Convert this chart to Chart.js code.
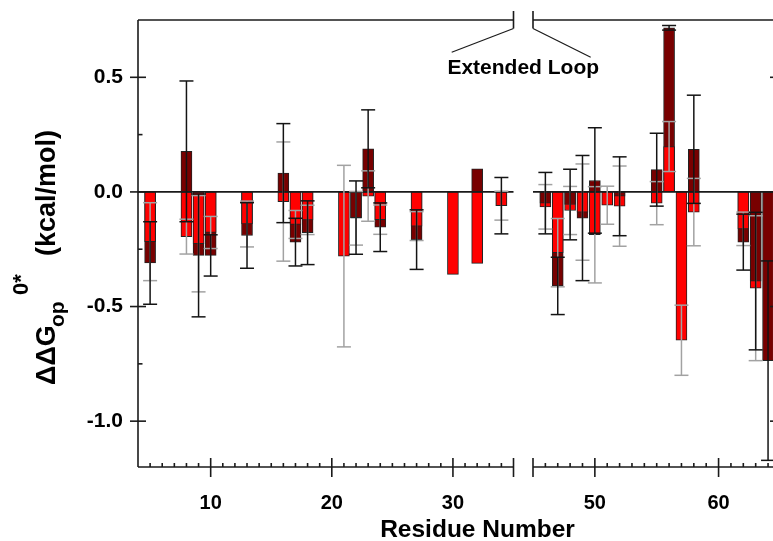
<!DOCTYPE html>
<html>
<head>
<meta charset="utf-8">
<script src="https://cdn.jsdelivr.net/npm/chart.js@4.4.1/dist/chart.umd.min.js"></script>
<style>
html,body{margin:0;padding:0;background:#fff;overflow:hidden}
#wrap{width:773px;height:541px;position:relative}
</style>
</head>
<body>
<div id="wrap"><canvas id="c" width="773" height="541"></canvas></div>
<script>
// ---------------- data ----------------
const residues   = [5, 8, 9, 10, 13, 16, 17, 18, 21, 22, 23, 24, 27, 30, 32, 34,
                    46, 47, 48, 49, 50, 51, 52, 55, 56, 57, 58, 62, 63, 64];
const redValues  = [-0.217, -0.195, -0.226, -0.177, -0.140, -0.042, -0.142, -0.122, -0.280, -0.115, -0.018, -0.121, -0.149, -0.360, -0.312, -0.060,
                    -0.065, -0.265, -0.081, -0.088, -0.187, -0.058, -0.062, -0.049, 0.198, -0.647, -0.088, -0.161, -0.420, null];
const redErrors  = [0.170, 0.076, 0.210, 0.070, 0.100, 0.260, 0.061, 0.064, 0.396, 0.117, 0.110, 0.064, 0.063, null, null, 0.063,
                    0.097, 0.149, 0.105, 0.210, 0.210, 0.083, 0.175, 0.094, 0.109, 0.153, 0.147, 0.073, 0.316, null];
const darkValues = [-0.310, 0.177, -0.277, -0.277, -0.190, 0.082, -0.219, -0.178, null, -0.112, 0.188, -0.154, -0.208, null, 0.101, -0.060,
                    -0.049, -0.410, -0.055, -0.114, 0.050, null, -0.019, 0.097, 0.716, null, 0.186, -0.219, -0.389, -0.736];
const darkErrors = [0.180, 0.307, 0.268, 0.090, 0.143, 0.216, 0.104, 0.139, null, 0.160, 0.170, 0.106, 0.130, null, null, 0.123,
                    0.134, 0.125, 0.154, 0.273, 0.230, null, 0.172, 0.159, 0.010, null, 0.236, 0.122, 0.300, 0.435];
const leftRange   = [4, 35];
const rightRange  = [45, 64.4];
const xTickLabels = [10, 20, 30, 50, 60];
const yTickValues = [0.5, 0.0, -0.5, -1.0];
const yMinorTicks = [0.25, -0.25, -0.75];
const yRange      = [-1.2, 0.75];
const xTitle = 'Residue Number';
const loopLabel = 'Extended Loop';

// ---------------- styling ----------------
const FONT = "'Liberation Sans', Arial, Helvetica, sans-serif";
const RED = '#ff0000', DARK = '#780000', AXIS = '#1a1a1a';
const GRAY_ERR = '#a2a2a2', BLACK_ERR = '#141414';

function panelOf(r) { return r <= leftRange[1] ? 'xL' : 'xR'; }
// the shorter of the two bars at a residue is drawn in front
function barData(panel, values, others, front, tieFront) {
  const out = [];
  residues.forEach((r, i) => {
    const v = values[i], o = others[i];
    if (v === null || panelOf(r) !== panel) return;
    const isFront = o === null || (tieFront ? Math.abs(v) <= Math.abs(o) : Math.abs(v) < Math.abs(o));
    if (isFront === front) out.push({x: r, y: v});
  });
  return out;
}

const common = {grouped: false, barThickness: 11, borderWidth: 1, borderColor: '#222',
                borderSkipped: false, yAxisID: 'y'};
const datasets = [];
for (const panel of ['xL', 'xR']) {
  for (const front of [true, false]) {
    datasets.push(Object.assign({label: 'red', xAxisID: panel, order: front ? 1 : 2,
      backgroundColor: RED, data: barData(panel, redValues, darkValues, front, true)}, common));
    datasets.push(Object.assign({label: 'dark', xAxisID: panel, order: front ? 1 : 2,
      backgroundColor: DARK, data: barData(panel, darkValues, redValues, front, false)}, common));
  }
}

const zeroPad = s => { s.paddingTop = 0; s.paddingBottom = 0; s.paddingLeft = 0; s.paddingRight = 0; };
const tickFont = {family: FONT, size: 20, weight: 'bold'};
function xAxis(range, weight, showTicks) {
  return {
    type: 'linear', position: 'bottom', stack: 'x', stackWeight: weight,
    min: range[0], max: range[1], offset: false,
    grid: {display: false, drawTicks: false}, border: {display: false},
    ticks: {display: showTicks, font: tickFont, color: '#000', padding: 24, maxRotation: 0, autoSkip: false},
    afterBuildTicks: s => { if (showTicks) s.ticks = xTickLabels.filter(v => v >= range[0] && v <= range[1]).map(v => ({value: v})); },
    afterFit: s => { s.height = 74; zeroPad(s); }
  };
}

const decor = {
  id: 'decor',
  afterDatasetsDraw(chart) {
    const {ctx, scales} = chart;
    const y = scales.y;
    const seg = (x1, y1, x2, y2) => { ctx.beginPath(); ctx.moveTo(x1, y1); ctx.lineTo(x2, y2); ctx.stroke(); };
    ctx.save();
    // zero line per panel
    ctx.strokeStyle = AXIS; ctx.lineWidth = 1.6;
    const y0 = y.getPixelForValue(0);
    for (const s of [scales.xL, scales.xR]) seg(s.left, y0, s.right, y0);
    // error bars
    const drawErr = (vals, errs, color) => {
      ctx.strokeStyle = color; ctx.lineWidth = 1.5;
      residues.forEach((r, i) => {
        if (vals[i] === null || errs[i] === null) return;
        const px = scales[panelOf(r)].getPixelForValue(r);
        const top = y.getPixelForValue(vals[i] + errs[i]);
        const bot = y.getPixelForValue(vals[i] - errs[i]);
        seg(px, top, px, bot);
        seg(px - 7, top, px + 7, top);
        seg(px - 7, bot, px + 7, bot);
      });
    };
    drawErr(redValues, redErrors, GRAY_ERR);
    drawErr(darkValues, darkErrors, BLACK_ERR);
    ctx.restore();
  },
  afterDraw(chart) {
    const {ctx, chartArea: a, scales} = chart;
    const {y, xL, xR} = scales;
    const seg = (x1, y1, x2, y2) => { ctx.beginPath(); ctx.moveTo(x1, y1); ctx.lineTo(x2, y2); ctx.stroke(); };
    ctx.save();
    ctx.strokeStyle = AXIS; ctx.lineWidth = 1.6;
    // frame
    seg(a.left, a.top, a.left, a.bottom);
    for (const s of [xL, xR]) { seg(s.left, a.top, s.right, a.top); seg(s.left, a.bottom, s.right, a.bottom); }
    // break marks
    for (const bx of [xL.right, xR.left]) { seg(bx, a.top - 9, bx, a.top + 8.5); seg(bx, a.bottom - 9, bx, a.bottom + 10); }
    // y ticks
    yTickValues.forEach(v => { const py = y.getPixelForValue(v); seg(a.left - 8, py, a.left + 8, py); seg(a.right - 3, py, a.right, py); });
    yMinorTicks.forEach(v => { const py = y.getPixelForValue(v); seg(a.left, py, a.left + 4.5, py); });
    // x ticks
    for (const s of [xL, xR]) {
      for (let r = Math.ceil(s.min); r <= Math.floor(s.max); r++) {
        const px = s.getPixelForValue(r);
        if (xTickLabels.includes(r)) seg(px, a.bottom - 9, px, a.bottom + 10);
        else if (r > s.min && r < s.max) seg(px, a.bottom - 4, px, a.bottom);
      }
    }
    // extended loop pointer lines
    ctx.lineWidth = 1.2;
    seg(xL.right, a.top + 8.5, 451.7, 52.3);
    seg(xR.left, a.top + 8.5, 590.7, 57.3);
    // texts
    ctx.fillStyle = '#000';
    ctx.textBaseline = 'alphabetic';
    ctx.textAlign = 'center';
    ctx.font = `bold 21px ${FONT}`;
    ctx.fillText(loopLabel, (xL.right + xR.left) / 2, 74);
    ctx.font = `bold 24.5px ${FONT}`;
    ctx.fillText(xTitle, 477.5, 537);
    // y title with subscript/superscript
    ctx.save();
    ctx.translate(55, 385);
    ctx.rotate(-Math.PI / 2);
    ctx.textAlign = 'left';
    ctx.font = `bold 27px ${FONT}`;
    ctx.fillText('\u0394\u0394G', 0, 0);
    ctx.font = `bold 21px ${FONT}`;
    ctx.fillText('op', 58, 8.5);
    ctx.font = `bold 22px ${FONT}`;
    ctx.fillText('0*', 90, -27);
    ctx.font = `bold 27px ${FONT}`;
    ctx.fillText('(kcal/mol)', 129, 0);
    ctx.restore();
    ctx.restore();
  }
};

new Chart(document.getElementById('c'), {
  type: 'bar',
  data: {datasets},
  options: {
    responsive: false, animation: false,
    layout: {padding: {left: 0, right: 0, top: 20, bottom: 0}},
    plugins: {legend: {display: false}, tooltip: {enabled: false}},
    scales: {
      xL: xAxis(leftRange, 375.5, true),
      xGap: xAxis([0, 1], 19.5, false),
      xR: xAxis(rightRange, 240, true),
      y: {
        type: 'linear', position: 'left', min: yRange[0], max: yRange[1],
        grid: {display: false, drawTicks: false}, border: {display: false},
        ticks: {font: {family: FONT, size: 21, weight: 'bold'}, color: '#000', padding: 15, callback: v => v.toFixed(1)},
        afterBuildTicks: s => { s.ticks = yTickValues.map(v => ({value: v})); },
        afterFit: s => { s.width = 138; zeroPad(s); }
      }
    }
  },
  plugins: [decor]
});
</script>
</body>
</html>
